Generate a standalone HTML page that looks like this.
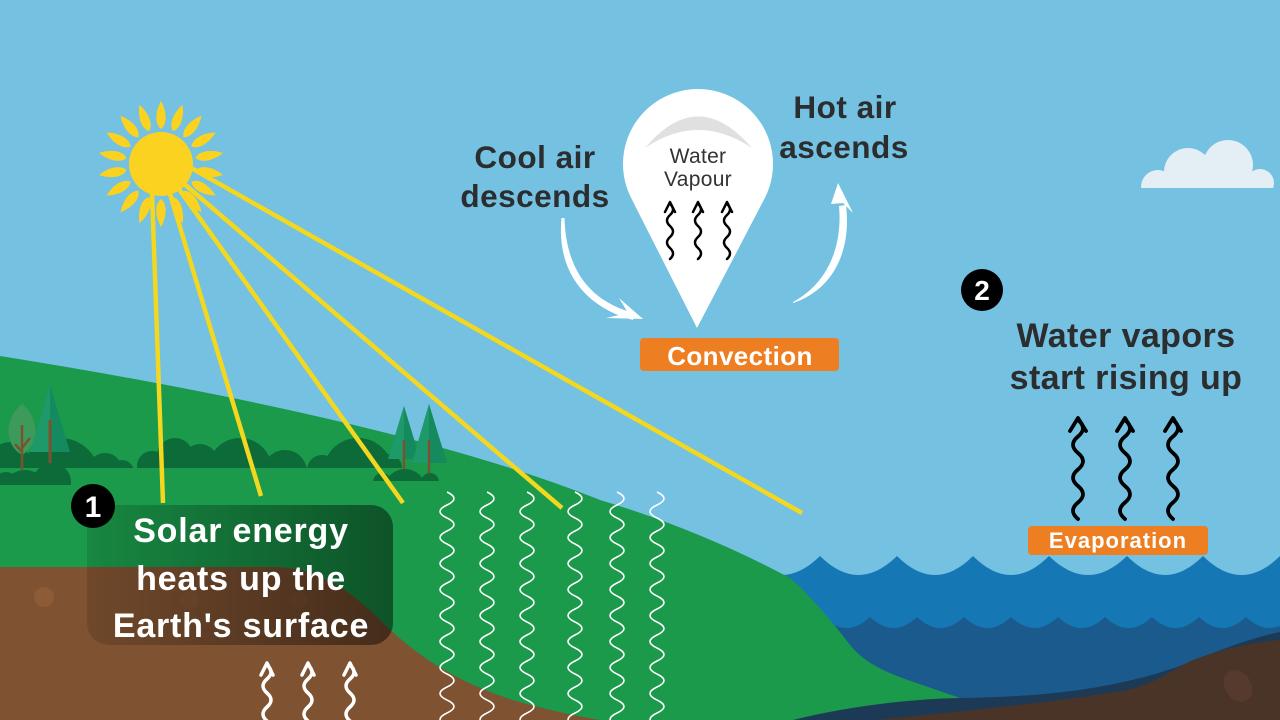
<!DOCTYPE html>
<html><head><meta charset="utf-8"><style>
html,body{margin:0;padding:0;background:#74C1E2;}
svg{display:block;}
text{font-family:"Liberation Sans",sans-serif;}
</style></head><body>
<svg width="1280" height="720" viewBox="0 0 1280 720" xmlns="http://www.w3.org/2000/svg">
<defs>
<linearGradient id="boxg" x1="0" y1="0" x2="1" y2="0">
<stop offset="0" stop-color="#000" stop-opacity="0.12"/>
<stop offset="1" stop-color="#000" stop-opacity="0.46"/>
</linearGradient>
<clipPath id="c468"><rect x="0" y="0" width="1280" height="468"/></clipPath>
<clipPath id="c485"><rect x="0" y="0" width="140" height="485"/></clipPath>
<clipPath id="c481"><rect x="360" y="0" width="100" height="481"/></clipPath>
<clipPath id="c188"><rect x="1100" y="100" width="200" height="88"/></clipPath>
</defs>
<rect width="1280" height="720" fill="#74C1E2"/>

<!-- cloud -->
<g fill="#E4EEF5" clip-path="url(#c188)">
<circle cx="1158" cy="187" r="17"/>
<circle cx="1188" cy="172" r="24"/>
<circle cx="1228" cy="165" r="25"/>
<circle cx="1260" cy="183" r="14"/>
<rect x="1150" y="178" width="115" height="12"/>
</g>

<!-- ocean -->
<rect x="740" y="556" width="540" height="164" fill="#1677B5"/>
<g fill="#74C1E2">
<path d="M743,556 Q781.5,594 820,556Z"/>
<path d="M820,556 Q858.5,594 897,556Z"/>
<path d="M897,556 Q935,594 973,556Z"/>
<path d="M973,556 Q1011,594 1049,556Z"/>
<path d="M1049,556 Q1088,594 1127,556Z"/>
<path d="M1127,556 Q1165,594 1203,556Z"/>
<path d="M1203,556 Q1241.5,594 1280,556Z"/>
</g>
<rect x="820" y="617" width="460" height="103" fill="#1B5A8C"/>
<g fill="#1677B5">
<path d="M823,617 Q846.5,639 870,617Z"/>
<path d="M870,617 Q893.5,639 917,617Z"/>
<path d="M917,617 Q940.5,639 964,617Z"/>
<path d="M964,617 Q987.5,639 1011,617Z"/>
<path d="M1011,617 Q1034.5,639 1058,617Z"/>
<path d="M1058,617 Q1081.5,639 1105,617Z"/>
<path d="M1105,617 Q1128.5,639 1152,617Z"/>
<path d="M1152,617 Q1175.5,639 1199,617Z"/>
<path d="M1199,617 Q1222.5,639 1246,617Z"/>
<path d="M1246,617 Q1269.5,639 1293,617Z"/>
</g>

<!-- green hill -->
<path d="M0,356 Q400,420 600,500 Q700,530 790,578 C810,595 835,625 850,645 C862,660 880,670 905,679 L960,698 L960,720 L0,720Z" fill="#1A9A4A"/>

<!-- navy band and dark brown -->
<path d="M793,720 C850,706 910,699 960,698 C1040,697 1110,690 1177,667 C1215,652 1250,638 1280,632 L1280,720Z" fill="#1C3A56"/>
<path d="M877,720 C960,711 1060,702 1127,690 C1160,682 1175,668 1193,660 C1225,648 1255,642 1280,640 L1280,720Z" fill="#4A3428"/>
<ellipse cx="1238" cy="686" rx="13" ry="17" transform="rotate(-35 1238 686)" fill="#573A2E"/>

<!-- brown soil -->
<path d="M0,567 L280,567 C320,570 350,590 380,620 C410,650 450,680 513,700 C540,708 570,715 600,720 L0,720Z" fill="#7F5231"/>
<circle cx="44" cy="597" r="10" fill="#8E5B37"/>
<circle cx="190" cy="600" r="9" fill="#845533"/>
<circle cx="300" cy="600" r="8" fill="#845533"/>

<!-- bushes -->
<g fill="#0D6A39" clip-path="url(#c468)">
<circle cx="10" cy="462" r="20"/>
<circle cx="60" cy="478" r="40"/>
<circle cx="105" cy="470" r="17"/>
<circle cx="122" cy="472" r="12"/>
<circle cx="152" cy="466" r="15"/>
<circle cx="175" cy="456" r="18"/>
<circle cx="200" cy="462" r="18"/>
<circle cx="240" cy="470" r="32"/>
<circle cx="285" cy="472" r="22"/>
<circle cx="322" cy="470" r="15"/>
<circle cx="358" cy="473" r="35"/>
<circle cx="388" cy="468" r="14"/>
</g>

<!-- left trees -->
<path d="M22,404 C40,418 40,445 22,455 C4,445 4,418 22,404Z" fill="#3E9A5B"/>
<path d="M22,425 L22,470 M22,448 L30,438 M22,452 L15,444" stroke="#7A5230" stroke-width="2.5" fill="none"/>
<polygon points="50,385 30,452 70,452" fill="#148A5E"/>
<polygon points="50,385 30,452 50,452" fill="#1E9A6A"/>
<line x1="50" y1="420" x2="50" y2="465" stroke="#7A5230" stroke-width="3"/>
<g fill="#0D6A39" clip-path="url(#c485)">
<circle cx="52" cy="482" r="19"/>
<circle cx="25" cy="492" r="22"/>
<circle cx="6" cy="484" r="12"/>
</g>

<!-- right pines -->
<polygon points="404,406 388,459 420,459" fill="#148A5E"/>
<polygon points="404,406 388,459 404,459" fill="#1E9A6A"/>
<polygon points="429,404 412,463 447,463" fill="#148A5E"/>
<polygon points="429,404 412,463 429,463" fill="#1E9A6A"/>
<line x1="404" y1="440" x2="404" y2="471" stroke="#7A5230" stroke-width="2.5"/>
<line x1="429" y1="440" x2="429" y2="474" stroke="#7A5230" stroke-width="2.5"/>
<g fill="#0D6A39" clip-path="url(#c481)">
<circle cx="405" cy="490" r="21"/>
<circle cx="382" cy="482" r="9"/>
<circle cx="430" cy="482" r="9"/>
</g>

<!-- yellow rays -->
<g stroke="#F4D71F" stroke-width="4.5" stroke-linecap="butt">
<line x1="151" y1="164" x2="163" y2="503"/>
<line x1="161" y1="164" x2="261" y2="496"/>
<line x1="161" y1="164" x2="403" y2="503"/>
<line x1="161" y1="164" x2="562" y2="508"/>
<line x1="161" y1="151" x2="802" y2="513"/>
</g>

<!-- sun -->
<g fill="#FBD21F" transform="translate(161,164)">
<path transform="rotate(-90)" d="M35,0 C40,-6.5 52,-6 63,0 C52,6 40,6.5 35,0Z"/>
<path transform="rotate(-70)" d="M35,0 C40,-6.5 52,-6 63,0 C52,6 40,6.5 35,0Z"/>
<path transform="rotate(-50)" d="M35,0 C40,-6.5 52,-6 63,0 C52,6 40,6.5 35,0Z"/>
<path transform="rotate(-30)" d="M35,0 C40,-6.5 52,-6 63,0 C52,6 40,6.5 35,0Z"/>
<path transform="rotate(-10)" d="M35,0 C40,-6.5 52,-6 63,0 C52,6 40,6.5 35,0Z"/>
<path transform="rotate(10)" d="M35,0 C40,-6.5 52,-6 63,0 C52,6 40,6.5 35,0Z"/>
<path transform="rotate(30)" d="M35,0 C40,-6.5 52,-6 63,0 C52,6 40,6.5 35,0Z"/>
<path transform="rotate(50)" d="M35,0 C40,-6.5 52,-6 63,0 C52,6 40,6.5 35,0Z"/>
<path transform="rotate(70)" d="M35,0 C40,-6.5 52,-6 63,0 C52,6 40,6.5 35,0Z"/>
<path transform="rotate(90)" d="M35,0 C40,-6.5 52,-6 63,0 C52,6 40,6.5 35,0Z"/>
<path transform="rotate(110)" d="M35,0 C40,-6.5 52,-6 63,0 C52,6 40,6.5 35,0Z"/>
<path transform="rotate(130)" d="M35,0 C40,-6.5 52,-6 63,0 C52,6 40,6.5 35,0Z"/>
<path transform="rotate(150)" d="M35,0 C40,-6.5 52,-6 63,0 C52,6 40,6.5 35,0Z"/>
<path transform="rotate(170)" d="M35,0 C40,-6.5 52,-6 63,0 C52,6 40,6.5 35,0Z"/>
<path transform="rotate(190)" d="M35,0 C40,-6.5 52,-6 63,0 C52,6 40,6.5 35,0Z"/>
<path transform="rotate(210)" d="M35,0 C40,-6.5 52,-6 63,0 C52,6 40,6.5 35,0Z"/>
<path transform="rotate(230)" d="M35,0 C40,-6.5 52,-6 63,0 C52,6 40,6.5 35,0Z"/>
<path transform="rotate(250)" d="M35,0 C40,-6.5 52,-6 63,0 C52,6 40,6.5 35,0Z"/>
<circle cx="0" cy="0" r="32"/>
</g>

<!-- white wavy heat lines -->
<g stroke="#FFFFFF" stroke-width="1.6" fill="none">
<path d="M447,492 q14,6.5 0,13 t0,13 t0,13 t0,13 t0,13 t0,13 t0,13 t0,13 t0,13 t0,13 t0,13 t0,13 t0,13 t0,13 t0,13 t0,13 t0,13 t0,13"/>
<path d="M487,492 q14,6.5 0,13 t0,13 t0,13 t0,13 t0,13 t0,13 t0,13 t0,13 t0,13 t0,13 t0,13 t0,13 t0,13 t0,13 t0,13 t0,13 t0,13 t0,13"/>
<path d="M527,492 q14,6.5 0,13 t0,13 t0,13 t0,13 t0,13 t0,13 t0,13 t0,13 t0,13 t0,13 t0,13 t0,13 t0,13 t0,13 t0,13 t0,13 t0,13 t0,13"/>
<path d="M575,492 q14,6.5 0,13 t0,13 t0,13 t0,13 t0,13 t0,13 t0,13 t0,13 t0,13 t0,13 t0,13 t0,13 t0,13 t0,13 t0,13 t0,13 t0,13 t0,13"/>
<path d="M617,492 q14,6.5 0,13 t0,13 t0,13 t0,13 t0,13 t0,13 t0,13 t0,13 t0,13 t0,13 t0,13 t0,13 t0,13 t0,13 t0,13 t0,13 t0,13 t0,13"/>
<path d="M657,492 q14,6.5 0,13 t0,13 t0,13 t0,13 t0,13 t0,13 t0,13 t0,13 t0,13 t0,13 t0,13 t0,13 t0,13 t0,13 t0,13 t0,13 t0,13 t0,13"/>
</g>

<!-- text box 1 -->
<rect x="87" y="505" width="306" height="140" rx="22" fill="url(#boxg)"/>
<g fill="#FFFFFF" font-weight="bold" font-size="34" text-anchor="middle" letter-spacing="0.8">
<text x="241" y="542">Solar energy</text>
<text x="241" y="590">heats up the</text>
<text x="241" y="637">Earth's surface</text>
</g>
<circle cx="93" cy="506" r="22" fill="#000"/>
<text x="93" y="517" fill="#fff" font-weight="bold" font-size="30" text-anchor="middle">1</text>

<!-- white arrows bottom -->
<g stroke="#FFFFFF" stroke-width="3.5" fill="none" stroke-linecap="round" stroke-linejoin="round">
<path d="M261,675 L267,663 L273,675"/>
<path d="M267,665 q8,7 0,14 t0,14 t0,14 t0,14"/>
<path d="M302,675 L308,663 L314,675"/>
<path d="M308,665 q8,7 0,14 t0,14 t0,14 t0,14"/>
<path d="M344,675 L350,663 L356,675"/>
<path d="M350,665 q8,7 0,14 t0,14 t0,14 t0,14"/>
</g>

<!-- balloon -->
<path d="M697,328 L631.3,198.3 A75,75 0 1,1 764.7,198.3Z" fill="#FFFFFF"/>
<path d="M645,148 Q698,85 752,148 Q698,112 645,148Z" fill="#E0E0E0"/>
<g fill="#333333" font-size="21" text-anchor="middle" letter-spacing="0.3">
<text x="698" y="163">Water</text>
<text x="698" y="186">Vapour</text>
</g>
<g stroke="#000" stroke-width="2.5" fill="none" stroke-linecap="round" stroke-linejoin="round">
<path d="M665,212 L670,202 L675,212"/>
<path d="M670,204 q6,5.5 0,11 t0,11 t0,11 t0,11 t0,11"/>
<path d="M693,212 L698,202 L703,212"/>
<path d="M698,204 q6,5.5 0,11 t0,11 t0,11 t0,11 t0,11"/>
<path d="M722,212 L727,202 L732,212"/>
<path d="M727,204 q6,5.5 0,11 t0,11 t0,11 t0,11 t0,11"/>
</g>

<!-- curved white arrows -->
<path d="M561.5,218 C556,274 588,308 633,320 L634,313 C592,302 566,272 564.5,218Z" fill="#FFFFFF"/>
<polygon points="643,319 619,298 628,313 606,318" fill="#FFFFFF"/>
<path d="M793,303 C830,291 852,255 846,205 L839,206 C843,250 825,285 793,302Z" fill="#FFFFFF"/>
<polygon points="838,183 853,213 843,203 831,204" fill="#FFFFFF"/>

<!-- labels convection -->
<g fill="#2B2D2F" font-weight="bold" font-size="31.5" text-anchor="middle" letter-spacing="0.5">
<text x="535" y="168">Cool air</text>
<text x="535" y="207">descends</text>
<text x="845" y="118">Hot air</text>
<text x="844" y="158">ascends</text>
</g>
<rect x="640" y="338" width="199" height="33" rx="4" fill="#EE7E22"/>
<text x="740" y="365" fill="#fff" font-weight="bold" font-size="26" text-anchor="middle" letter-spacing="0.4">Convection</text>

<!-- section 2 -->
<circle cx="982" cy="290" r="21" fill="#000"/>
<text x="982" y="300" fill="#fff" font-weight="bold" font-size="28" text-anchor="middle">2</text>
<g fill="#2B2D2F" font-weight="bold" font-size="34" text-anchor="middle" letter-spacing="0.4">
<text x="1126" y="347">Water vapors</text>
<text x="1126" y="389">start rising up</text>
</g>
<g stroke="#000" stroke-width="3.8" fill="none" stroke-linecap="round" stroke-linejoin="round">
<path d="M1070,431 L1078,418 L1086,431"/>
<path d="M1078,420 q10,8.25 0,16.5 t0,16.5 t0,16.5 t0,16.5 t0,16.5 t0,16.5"/>
<path d="M1117,431 L1125,418 L1133,431"/>
<path d="M1125,420 q10,8.25 0,16.5 t0,16.5 t0,16.5 t0,16.5 t0,16.5 t0,16.5"/>
<path d="M1165,431 L1173,418 L1181,431"/>
<path d="M1173,420 q10,8.25 0,16.5 t0,16.5 t0,16.5 t0,16.5 t0,16.5 t0,16.5"/>
</g>
<rect x="1028" y="526" width="180" height="29" rx="4" fill="#EE7E22"/>
<text x="1118" y="548" fill="#fff" font-weight="bold" font-size="22" text-anchor="middle" letter-spacing="1">Evaporation</text>
</svg>
</body></html>
